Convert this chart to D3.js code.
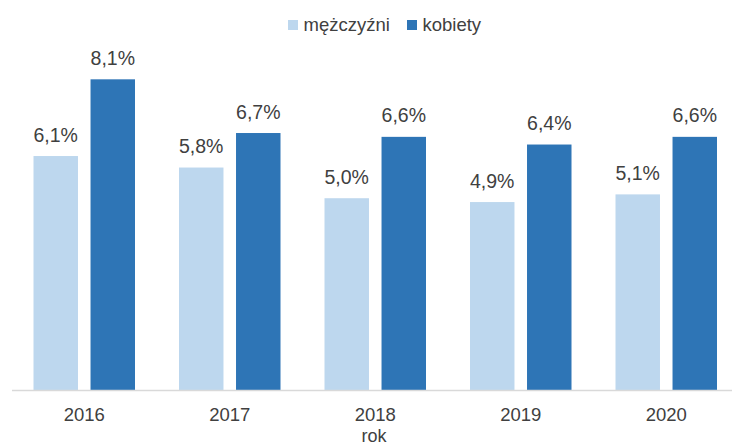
<!DOCTYPE html>
<html>
<head>
<meta charset="utf-8">
<script src="https://cdn.jsdelivr.net/npm/d3@7"></script>
<style>
    body { margin: 0; background: #fff; }
    svg text { font-family: "Liberation Sans", Arial, sans-serif; fill: #404040; }
</style>
</head>
<body>
<svg width="732" height="446"></svg>
<script>
// dane
var years = ["2016", "2017", "2018", "2019", "2020"];
var mezczyzni = [6.1, 5.8, 5.0, 4.9, 5.1];
var kobiety = [8.1, 6.7, 6.6, 6.4, 6.6];
var seriesNames = ["mężczyźni", "kobiety"];
var colors = ["#BDD7EE", "#2E75B6"];

var svg = d3.select("svg"),
    baseY = 390;

var data = years.map(function (y, i) {
    return { year: y, values: [mezczyzni[i], kobiety[i]] };
});

var x = d3.scaleBand()
    .domain(years)
    .range([11.5, 739])
    .paddingInner(0)
    .paddingOuter(0);

var x1 = d3.scaleBand()
    .domain([0, 1])
    .range([22, x.bandwidth() - 22])
    .paddingInner(0.22);

var y = d3.scaleLinear()
    .domain([0, 9])
    .range([baseY, 44.8]);

var groups = svg.selectAll(".group")
    .data(data)
    .enter().append("g")
    .attr("class", "group")
    .attr("transform", function (d) { return "translate(" + x(d.year) + ",0)"; });

groups.selectAll("rect")
    .data(function (d) { return d.values; })
    .enter().append("rect")
    .attr("x", function (d, i) { return x1(i); })
    .attr("width", x1.bandwidth())
    .attr("y", function (d) { return y(d); })
    .attr("height", function (d) { return baseY - y(d); })
    .attr("fill", function (d, i) { return colors[i]; });

groups.selectAll(".lbl")
    .data(function (d) { return d.values; })
    .enter().append("text")
    .attr("class", "lbl")
    .attr("x", function (d, i) { return x1(i) + x1.bandwidth() / 2; })
    .attr("y", function (d) { return y(d) - 14.5; })
    .attr("text-anchor", "middle")
    .style("font-size", "19.5px")
    .text(function (d) { return d.toFixed(1).replace(".", ",") + "%"; });

// os x
var xAxis = svg.append("g")
    .attr("transform", "translate(0," + baseY + ")")
    .call(d3.axisBottom(x).tickSize(0).tickPadding(0));
xAxis.select(".domain").attr("stroke", "#D9D9D9").attr("stroke-width", 1.3);
xAxis.selectAll("text")
    .attr("y", 31)
    .attr("dy", 0)
    .attr("fill", "#404040")
    .style("font-size", "18.5px")
    .style("font-family", "'Liberation Sans', Arial, sans-serif");

svg.append("text")
    .attr("x", 374)
    .attr("y", 442)
    .attr("text-anchor", "middle")
    .style("font-size", "18px")
    .text("rok");

// legenda
var legendX = [288, 407];
var legend = svg.selectAll(".legend")
    .data(seriesNames)
    .enter().append("g")
    .attr("class", "legend")
    .attr("transform", function (d, i) { return "translate(" + legendX[i] + ",0)"; });

legend.append("rect")
    .attr("x", 0)
    .attr("y", 20)
    .attr("width", 10)
    .attr("height", 10)
    .attr("fill", function (d, i) { return colors[i]; });

legend.append("text")
    .attr("x", 15.5)
    .attr("y", 30.5)
    .style("font-size", "18.5px")
    .text(function (d) { return d; });
</script>
</body>
</html>
